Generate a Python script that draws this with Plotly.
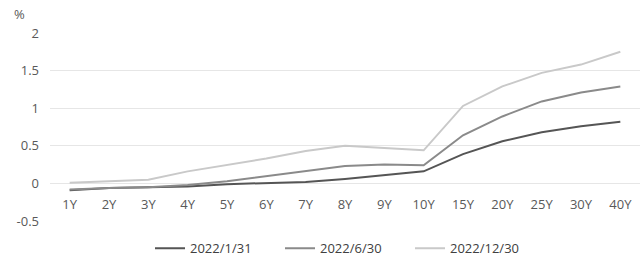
import plotly.graph_objects as go

categories = ["1Y","2Y","3Y","4Y","5Y","6Y","7Y","8Y","9Y","10Y","15Y","20Y","25Y","30Y","40Y"]
s_jan = [-0.09,-0.06,-0.05,-0.04,-0.01,0.01,0.02,0.06,0.11,0.16,0.39,0.56,0.68,0.76,0.82]
s_jun = [-0.08,-0.06,-0.05,-0.02,0.03,0.10,0.16,0.23,0.25,0.24,0.64,0.89,1.09,1.21,1.29]
s_dec = [0.01,0.03,0.05,0.16,0.24,0.33,0.43,0.50,0.47,0.44,1.03,1.29,1.47,1.58,1.75]
names = ["2022/1/31","2022/6/30","2022/12/30"]
colors = ["#555555","#8a8a8a","#c9c9c9"]
y_ticks = [-0.5, 0, 0.5, 1, 1.5, 2]
y_ticktext = ["-0.5","0","0.5","1","1.5","2"]

font = "Open Sans"
fig = go.Figure()
for name, vals, c in zip(names, [s_jan, s_jun, s_dec], colors):
    fig.add_trace(go.Scatter(x=categories, y=vals, name=name, mode="lines",
                             line=dict(color=c, width=2)))

fig.update_layout(
    width=640, height=265,
    margin=dict(l=50, r=0, t=33, b=44),
    paper_bgcolor="white", plot_bgcolor="white",
    font=dict(family=font, size=13, color="#595959"),
    showlegend=True,
    legend=dict(orientation="h", x=0.5, xanchor="center", y=-0.065, yanchor="top",
                font=dict(size=13, color="#404040"), itemwidth=30, tracegroupgap=0,
                entrywidth=85),
    xaxis=dict(type="category", anchor="free", position=0.2, showgrid=False,
               showline=False, ticks="", tickfont=dict(size=13, color="#595959"),
               ticklabelstandoff=12, range=[-0.5, 14.5]),
    yaxis=dict(range=[-0.5, 2], tickvals=y_ticks, ticktext=y_ticktext,
               showgrid=True, gridcolor="#e6e6e6", gridwidth=1, zeroline=False,
               showline=False, ticks="", ticklabelstandoff=10,
               tickfont=dict(size=13, color="#595959")),
    annotations=[dict(text="%", xref="paper", yref="paper", x=-0.065, y=1.1,
                      showarrow=False, xanchor="left", yanchor="middle",
                      font=dict(size=13, color="#595959"))],
)
fig.write_html("out.html")
